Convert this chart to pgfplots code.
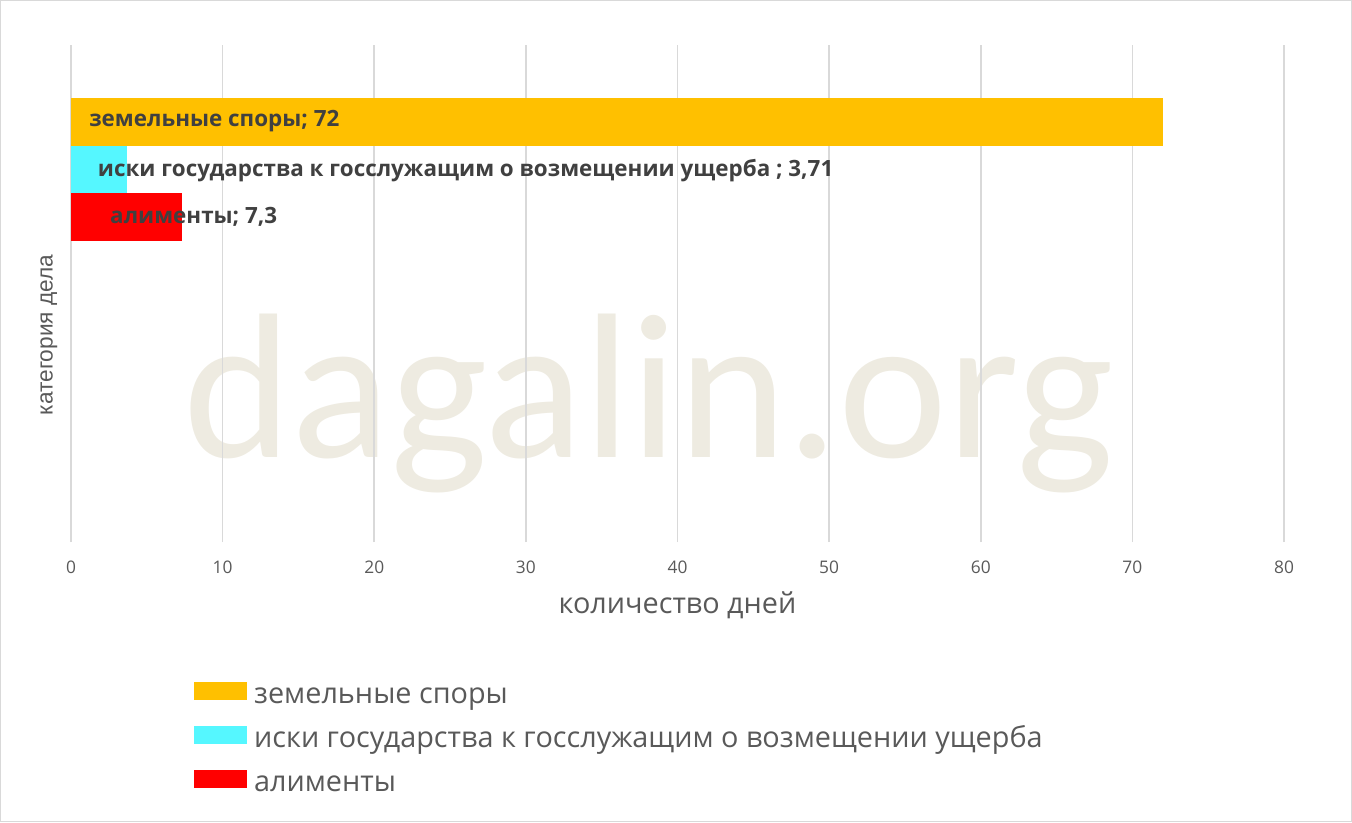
\documentclass[border=0pt]{standalone}
\usepackage{fontspec}
\setmainfont{Open Sans}
\newfontfamily\wmfont{Carlito}
\newfontfamily\arialfont{Liberation Sans}
\usepackage{pgfplots}
\pgfplotsset{compat=1.18}
\definecolor{cyel}{HTML}{FFC000}
\definecolor{ccyan}{HTML}{55F7FF}
\definecolor{cred}{HTML}{FF0000}
\definecolor{gridc}{HTML}{D9D9D9}
\definecolor{txt}{HTML}{595959}
\definecolor{lbl}{HTML}{404040}
\definecolor{wmc}{HTML}{EEEBE1}
\begin{document}
\begin{tikzpicture}[x=0.75pt,y=0.75pt]
\path[use as bounding box] (0,0) rectangle (1352,822);
\draw[gridc, line width=0.75pt] (0.5,0.5) rectangle (1351.5,821.5);
\node[anchor=base west, font=\wmfont\fontsize{155}{155}\selectfont, text=wmc, inner sep=0pt] at (183,364) {dagalin.org};
\node[rotate=90, font=\arialfont\fontsize{17}{20}\selectfont, text=txt] at (49,487) {категория дела};
\begin{axis}[
  at={(53.25pt,210pt)}, anchor=south west,
  width=909.75pt, height=372.75pt, scale only axis,
  xbar, bar width=1, bar shift=0,
  xmin=0, xmax=80, ymin=-7.86, ymax=2.627,
  xtick={0,10,...,80}, ytick=\empty,
  xmajorgrids, grid style={gridc, line width=1.2pt},
  axis line style={draw=none}, major tick length=0pt,
  /pgf/number format/assume math mode=true,
  tick label style={font=\fontsize{13}{15}\selectfont, text=txt},
  xticklabel style={yshift=-11pt},
  xlabel={количество дней},
  xlabel style={font=\fontsize{21.6}{25}\selectfont, text=txt, at={(axis description cs:0.5,-0.143)}, anchor=base},
  legend style={at={(axis description cs:0.101,-0.2805)}, anchor=north west, draw=none, fill=none,
    inner sep=0pt, row sep=11.5pt, column sep=5.5pt,
    font=\fontsize{21.6}{25}\selectfont, text=txt,
    nodes={inner sep=0pt, text height=16pt, text depth=5pt}},
  legend cell align=left,
  legend image code/.code={\fill[#1] (0pt,-2.5pt) rectangle (39.75pt,11pt);},
]
\addplot[draw=none, fill=cyel] coordinates {(72,1)};
\addlegendentry{земельные споры}
\addplot[draw=none, fill=ccyan] coordinates {(3.71,0)};
\addlegendentry{иски государства к госслужащим о возмещении ущерба}
\addplot[draw=none, fill=cred] coordinates {(7.3,-1)};
\addlegendentry{алименты}
\node[anchor=base west, inner sep=0pt, font=\bfseries\fontsize{16.8}{19}\selectfont, text=lbl] at (axis cs:1.19,0.903) {земельные споры; 72};
\node[anchor=base west, inner sep=0pt, font=\bfseries\fontsize{16.8}{19}\selectfont, text=lbl] at (axis cs:1.76,-0.151) {иски государства к госслужащим о возмещении ущерба ; 3,71};
\node[anchor=base west, inner sep=0pt, font=\bfseries\fontsize{16.8}{19}\selectfont, text=lbl] at (axis cs:2.57,-1.149) {алименты; 7,3};
\end{axis}
\end{tikzpicture}
\end{document}
